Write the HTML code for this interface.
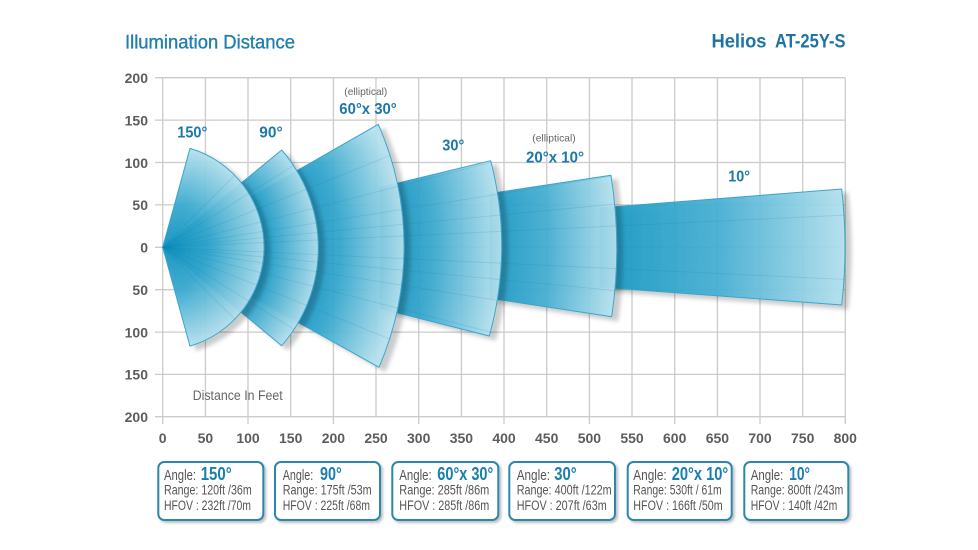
<!DOCTYPE html>
<html><head><meta charset="utf-8"><style>
html,body{margin:0;padding:0;background:#fff;}
svg{display:block;}
text{font-family:"Liberation Sans",Arial,sans-serif;}
</style></head><body>
<svg width="978" height="550" viewBox="0 0 978 550" xmlns="http://www.w3.org/2000/svg">
<defs>
<filter id="sh" x="-20%" y="-20%" width="150%" height="150%">
<feGaussianBlur in="SourceAlpha" stdDeviation="2.2"/>
<feOffset dx="6" dy="4" result="o"/>
<feComponentTransfer><feFuncA type="linear" slope="0.22"/></feComponentTransfer>
<feMerge><feMergeNode/><feMergeNode in="SourceGraphic"/></feMerge>
</filter>
<filter id="bs" x="-10%" y="-10%" width="130%" height="130%">
<feGaussianBlur in="SourceAlpha" stdDeviation="1.2"/>
<feOffset dx="2" dy="2"/>
<feComponentTransfer><feFuncA type="linear" slope="0.25"/></feComponentTransfer>
<feMerge><feMergeNode/><feMergeNode in="SourceGraphic"/></feMerge>
</filter>
<radialGradient id="g150" gradientUnits="userSpaceOnUse" cx="162.7" cy="247.3" r="101.3">
<stop offset="0" stop-color="#0a90bd"/><stop offset="0.45" stop-color="#36a8cf"/><stop offset="1" stop-color="#b0deec"/></radialGradient>
<radialGradient id="g90" gradientUnits="userSpaceOnUse" cx="162.7" cy="247.3" r="155.6">
<stop offset="0.6" stop-color="#1596c2"/><stop offset="0.72" stop-color="#3aa9cf"/><stop offset="1" stop-color="#b4e0ed"/></radialGradient>
<radialGradient id="g60" gradientUnits="userSpaceOnUse" cx="162.7" cy="247.3" r="241.3">
<stop offset="0.6" stop-color="#1394c0"/><stop offset="0.74" stop-color="#34a7ce"/><stop offset="1" stop-color="#b6e1ee"/></radialGradient>
<radialGradient id="g30" gradientUnits="userSpaceOnUse" cx="162.7" cy="247.3" r="339">
<stop offset="0.69" stop-color="#1594c0"/><stop offset="0.8" stop-color="#3aa9cf"/><stop offset="1" stop-color="#b6e1ee"/></radialGradient>
<radialGradient id="g20" gradientUnits="userSpaceOnUse" cx="162.7" cy="247.3" r="454">
<stop offset="0.72" stop-color="#1696c2"/><stop offset="0.85" stop-color="#45aed2"/><stop offset="1" stop-color="#b6e1ee"/></radialGradient>
<radialGradient id="g10" gradientUnits="userSpaceOnUse" cx="162.7" cy="247.3" r="682.3">
<stop offset="0.65" stop-color="#1698c3"/><stop offset="0.82" stop-color="#48b0d4"/><stop offset="1" stop-color="#b3e0ed"/></radialGradient>
<clipPath id="cu">
<path d="M162.7,247.3 L190,148.4 A103,103 0 0 1 190,346.1 Z"/>
<path d="M162.7,247.3 L281.7,150 A149,149 0 0 1 281.7,345.7 Z"/>
<path d="M162.7,247.3 L378.3,124.3 A303,303 0 0 1 379,367.3 Z"/>
<path d="M380,187.3 L490.7,160.7 A334,334 0 0 1 489.3,336 L380,308.5 Z"/>
<path d="M490,193.5 L611,175.3 A465,465 0 0 1 611.7,316.7 L490,298.4 Z"/>
<path d="M600,207.9 L841.7,189 A511,511 0 0 1 841.7,305 L600,287.2 Z"/>
</clipPath>
</defs>

<rect width="978" height="550" fill="#fff"/>

<!-- Titles -->
<text x="125" y="48.3" font-size="19" fill="#1f7fae" stroke="#1f7fae" stroke-width="0.35" textLength="170" lengthAdjust="spacingAndGlyphs">Illumination Distance</text>
<text x="711.5" y="47.5" font-size="19" font-weight="bold" fill="#1d74a3" textLength="55" lengthAdjust="spacingAndGlyphs">Helios</text>
<text x="775" y="47.5" font-size="19" font-weight="bold" fill="#1d74a3" textLength="70.5" lengthAdjust="spacingAndGlyphs">AT-25Y-S</text>

<!-- Grid -->
<g stroke="#cbcbcb" stroke-width="1.3" fill="none">
<line x1="155" y1="77.7" x2="845.3" y2="77.7"/>
<line x1="155" y1="120.1" x2="845.3" y2="120.1"/>
<line x1="155" y1="162.5" x2="845.3" y2="162.5"/>
<line x1="155" y1="204.9" x2="845.3" y2="204.9"/>
<line x1="155" y1="247.3" x2="845.3" y2="247.3"/>
<line x1="155" y1="289.7" x2="845.3" y2="289.7"/>
<line x1="155" y1="332.1" x2="845.3" y2="332.1"/>
<line x1="155" y1="374.4" x2="845.3" y2="374.4"/>
<line x1="155" y1="416.7" x2="845.3" y2="416.7"/>
<line x1="162.7" y1="77.7" x2="162.7" y2="424"/>
<line x1="205.4" y1="77.7" x2="205.4" y2="416.7"/>
<line x1="248.0" y1="77.7" x2="248.0" y2="424"/>
<line x1="290.7" y1="77.7" x2="290.7" y2="416.7"/>
<line x1="333.4" y1="77.7" x2="333.4" y2="424"/>
<line x1="376.0" y1="77.7" x2="376.0" y2="416.7"/>
<line x1="418.7" y1="77.7" x2="418.7" y2="424"/>
<line x1="461.4" y1="77.7" x2="461.4" y2="416.7"/>
<line x1="504.0" y1="77.7" x2="504.0" y2="424"/>
<line x1="546.7" y1="77.7" x2="546.7" y2="416.7"/>
<line x1="589.4" y1="77.7" x2="589.4" y2="424"/>
<line x1="632.0" y1="77.7" x2="632.0" y2="416.7"/>
<line x1="674.7" y1="77.7" x2="674.7" y2="424"/>
<line x1="717.4" y1="77.7" x2="717.4" y2="416.7"/>
<line x1="760.0" y1="77.7" x2="760.0" y2="424"/>
<line x1="802.7" y1="77.7" x2="802.7" y2="416.7"/>
<line x1="845.3" y1="77.7" x2="845.3" y2="424"/>
</g>

<!-- Y labels -->
<g font-size="14" font-weight="bold" fill="#5c5c5c" text-anchor="end">
<text x="148" y="83">200</text>
<text x="148" y="125.4">150</text>
<text x="148" y="167.8">100</text>
<text x="148" y="210.2">50</text>
<text x="148" y="252.6">0</text>
<text x="148" y="295">50</text>
<text x="148" y="337.4">100</text>
<text x="148" y="379.7">150</text>
<text x="148" y="422">200</text>
</g>
<!-- X labels -->
<g font-size="14" font-weight="bold" fill="#5c5c5c" text-anchor="middle">
<text x="162.7" y="443">0</text>
<text x="205.4" y="443">50</text>
<text x="248.0" y="443">100</text>
<text x="290.7" y="443">150</text>
<text x="333.4" y="443">200</text>
<text x="376.0" y="443">250</text>
<text x="418.7" y="443">300</text>
<text x="461.4" y="443">350</text>
<text x="504.0" y="443">400</text>
<text x="546.7" y="443">450</text>
<text x="589.4" y="443">500</text>
<text x="632.0" y="443">550</text>
<text x="674.7" y="443">600</text>
<text x="717.4" y="443">650</text>
<text x="760.0" y="443">700</text>
<text x="802.7" y="443">750</text>
<text x="845.3" y="443">800</text>
</g>

<!-- Wedges (largest first) -->
<g stroke="#3aa4ca" stroke-width="1" stroke-linejoin="round">
<path filter="url(#sh)" fill="url(#g10)" fill-opacity="0.93" d="M600,207.9 L841.7,189 A511,511 0 0 1 841.7,305 L600,287.2 Z"/>
<path filter="url(#sh)" fill="url(#g20)" fill-opacity="0.93" d="M490,193.5 L611,175.3 A465,465 0 0 1 611.7,316.7 L490,298.4 Z"/>
<path filter="url(#sh)" fill="url(#g30)" fill-opacity="0.93" d="M380,187.3 L490.7,160.7 A334,334 0 0 1 489.3,336 L380,308.5 Z"/>
<path filter="url(#sh)" fill="url(#g60)" fill-opacity="0.93" d="M162.7,247.3 L378.3,124.3 A303,303 0 0 1 379,367.3 Z"/>
<path filter="url(#sh)" fill="url(#g90)" fill-opacity="0.93" d="M162.7,247.3 L281.7,150 A149,149 0 0 1 281.7,345.7 Z"/>
<path filter="url(#sh)" fill="url(#g150)" fill-opacity="0.93" d="M162.7,247.3 L190,148.4 A103,103 0 0 1 190,346.1 Z"/>
</g>

<!-- Rays -->
<g clip-path="url(#cu)" stroke="#0a7aa5" stroke-opacity="0.16" stroke-width="0.9">
<line x1="162.7" y1="247.3" x2="862.7" y2="214.3"/>
<line x1="162.7" y1="247.3" x2="862.7" y2="280.3"/>
<line x1="162.7" y1="247.3" x2="862.7" y2="180.3"/>
<line x1="162.7" y1="247.3" x2="862.7" y2="314.3"/>
<line x1="162.7" y1="247.3" x2="862.7" y2="136.4"/>
<line x1="162.7" y1="247.3" x2="862.7" y2="358.2"/>
<line x1="162.7" y1="247.3" x2="862.7" y2="66.2"/>
<line x1="162.7" y1="247.3" x2="862.7" y2="428.4"/>
<line x1="162.7" y1="247.3" x2="562.7" y2="85.7"/>
<line x1="162.7" y1="247.3" x2="562.7" y2="408.9"/>
<line x1="162.7" y1="247.3" x2="462.7" y2="59.8"/>
<line x1="162.7" y1="247.3" x2="462.7" y2="434.8"/>
<line x1="162.7" y1="247.3" x2="362.7" y2="47.3"/>
<line x1="162.7" y1="247.3" x2="362.7" y2="447.3"/>
</g>

<!-- Wedge labels -->
<g font-weight="bold" fill="#1b79a8" font-size="15.5">
<text x="177.3" y="137.3" textLength="30" lengthAdjust="spacingAndGlyphs">150°</text>
<text x="259.3" y="137.3" textLength="23.4" lengthAdjust="spacingAndGlyphs">90°</text>
<text x="339.3" y="114" textLength="57.4" lengthAdjust="spacingAndGlyphs">60°x 30°</text>
<text x="442.3" y="150.7" textLength="22" lengthAdjust="spacingAndGlyphs">30°</text>
<text x="526" y="162.3" textLength="58" lengthAdjust="spacingAndGlyphs">20°x 10°</text>
<text x="728.3" y="181.7" textLength="21.7" lengthAdjust="spacingAndGlyphs">10°</text>
</g>
<g fill="#666" font-size="10.5">
<text x="344.3" y="95" textLength="43" lengthAdjust="spacingAndGlyphs">(elliptical)</text>
<text x="532.3" y="141.7" textLength="43.4" lengthAdjust="spacingAndGlyphs">(elliptical)</text>
</g>
<text x="192.7" y="400" font-size="13.5" fill="#666" textLength="90" lengthAdjust="spacingAndGlyphs">Distance In Feet</text>

<!-- Info boxes -->
<g fill="#fff" stroke="#2b88ad" stroke-width="2">
<rect filter="url(#bs)" x="158.3" y="462" width="105" height="58" rx="6"/>
<rect filter="url(#bs)" x="275" y="462" width="105" height="58" rx="6"/>
<rect filter="url(#bs)" x="392.3" y="462" width="106" height="58" rx="6"/>
<rect filter="url(#bs)" x="509.3" y="462" width="105.7" height="58" rx="6"/>
<rect filter="url(#bs)" x="627.7" y="462" width="104" height="58" rx="6"/>
<rect filter="url(#bs)" x="744.3" y="462" width="104" height="58" rx="6"/>
</g>
<g fill="#555" font-size="14.5">
<text x="164" y="480" textLength="32" lengthAdjust="spacingAndGlyphs">Angle:</text>
<text x="164" y="494.5" font-size="13.5" textLength="87.7" lengthAdjust="spacingAndGlyphs">Range: 120ft /36m</text>
<text x="164" y="510" font-size="13.5" textLength="87" lengthAdjust="spacingAndGlyphs">HFOV : 232ft /70m</text>

<text x="282.7" y="480" textLength="30.6" lengthAdjust="spacingAndGlyphs">Angle:</text>
<text x="282.7" y="494.5" font-size="13.5" textLength="89" lengthAdjust="spacingAndGlyphs">Range: 175ft /53m</text>
<text x="282.7" y="510" font-size="13.5" textLength="87.3" lengthAdjust="spacingAndGlyphs">HFOV : 225ft /68m</text>

<text x="399.3" y="480" textLength="32.4" lengthAdjust="spacingAndGlyphs">Angle:</text>
<text x="399.3" y="494.5" font-size="13.5" textLength="90" lengthAdjust="spacingAndGlyphs">Range: 285ft /86m</text>
<text x="399.3" y="510" font-size="13.5" textLength="90" lengthAdjust="spacingAndGlyphs">HFOV : 285ft /86m</text>

<text x="516.7" y="480" textLength="33.3" lengthAdjust="spacingAndGlyphs">Angle:</text>
<text x="516.7" y="494.5" font-size="13.5" textLength="95" lengthAdjust="spacingAndGlyphs">Range: 400ft /122m</text>
<text x="516.7" y="510" font-size="13.5" textLength="90" lengthAdjust="spacingAndGlyphs">HFOV : 207ft /63m</text>

<text x="633.3" y="480" textLength="33.4" lengthAdjust="spacingAndGlyphs">Angle:</text>
<text x="633.3" y="494.5" font-size="13.5" textLength="88.4" lengthAdjust="spacingAndGlyphs">Range: 530ft / 61m</text>
<text x="633.3" y="510" font-size="13.5" textLength="89.4" lengthAdjust="spacingAndGlyphs">HFOV : 166ft  /50m</text>

<text x="750.7" y="480" textLength="32.6" lengthAdjust="spacingAndGlyphs">Angle:</text>
<text x="750.7" y="494.5" font-size="13.5" textLength="92.6" lengthAdjust="spacingAndGlyphs">Range: 800ft /243m</text>
<text x="750.7" y="510" font-size="13.5" textLength="86.6" lengthAdjust="spacingAndGlyphs">HFOV : 140ft /42m</text>
</g>
<g fill="#1a7fae" font-weight="bold" font-size="18">
<text x="200.7" y="480" textLength="31" lengthAdjust="spacingAndGlyphs">150°</text>
<text x="320" y="480" textLength="21.7" lengthAdjust="spacingAndGlyphs">90°</text>
<text x="437.3" y="480" textLength="56" lengthAdjust="spacingAndGlyphs">60°x 30°</text>
<text x="554.3" y="480" textLength="22.4" lengthAdjust="spacingAndGlyphs">30°</text>
<text x="671.7" y="480" textLength="56.6" lengthAdjust="spacingAndGlyphs">20°x 10°</text>
<text x="789.3" y="480" textLength="20.7" lengthAdjust="spacingAndGlyphs">10°</text>
</g>
</svg>
</body></html>
